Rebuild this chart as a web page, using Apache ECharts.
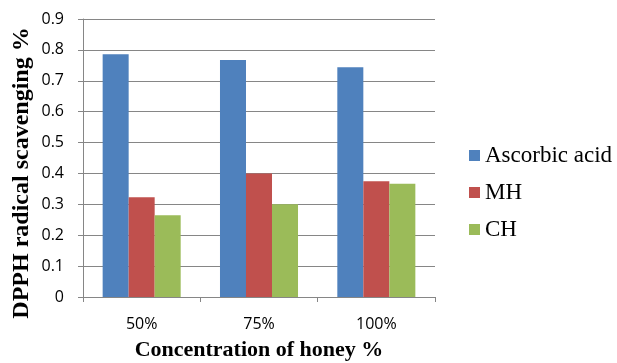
<!DOCTYPE html>
<html>
<head>
<meta charset="utf-8">
<script src="https://cdn.jsdelivr.net/npm/echarts@6/dist/echarts.min.js"></script>
<style>
  html, body { margin: 0; padding: 0; background: #fff; }
  #chart { width: 617px; height: 363px; }
</style>
</head>
<body>
<div id="chart"></div>
<script>
// Honey concentrations on the x axis
const categories = ['50%', '75%', '100%'];

// DPPH radical scavenging values per sample
const ascorbicAcid = [0.786, 0.767, 0.744];
const mh = [0.323, 0.400, 0.375];
const ch = [0.265, 0.300, 0.367];

// Value axis ticks
const yTicks = [0, 0.1, 0.2, 0.3, 0.4, 0.5, 0.6, 0.7, 0.8, 0.9];

const seriesNames = ['Ascorbic acid', 'MH', 'CH'];
const seriesColors = ['#4F81BD', '#C0504D', '#9BBB59'];
const seriesData = [ascorbicAcid, mh, ch];

const axisGrey = '#868686';
const serif = '"Liberation Serif", "Times New Roman", serif';
const sans = '"Open Sans", "Liberation Sans", sans-serif';

const chart = echarts.init(document.getElementById('chart'), null, { renderer: 'canvas' });

chart.setOption({
  animation: false,
  backgroundColor: '#ffffff',
  grid: { left: 83, right: 182, top: 19, bottom: 66 },
  legend: {
    orient: 'vertical',
    left: 464,
    top: 139,
    itemWidth: 11,
    itemHeight: 11,
    itemGap: 14,
    icon: 'rect',
    data: seriesNames,
    textStyle: { fontFamily: serif, fontSize: 23, color: '#000' }
  },
  xAxis: {
    type: 'category',
    data: categories,
    axisLine: { lineStyle: { color: axisGrey, width: 1 } },
    axisTick: { show: true, length: 5, lineStyle: { color: axisGrey } },
    axisLabel: { fontFamily: sans, fontSize: 16, color: '#000', margin: 19 }
  },
  yAxis: {
    type: 'value',
    min: yTicks[0],
    max: yTicks[yTicks.length - 1],
    interval: 0.1,
    axisLine: { show: true, lineStyle: { color: axisGrey, width: 1 } },
    axisTick: { show: true, length: 5, lineStyle: { color: axisGrey } },
    splitLine: { show: true, lineStyle: { color: axisGrey, width: 1 } },
    axisLabel: {
      fontFamily: sans, fontSize: 16, color: '#000', margin: 19,
      formatter: v => String(Math.round(v * 10) / 10)
    }
  },
  graphic: [
    {
      type: 'text',
      x: 22, y: 173,
      rotation: Math.PI / 2,
      style: {
        text: 'DPPH radical scavenging %',
        font: 'bold 24px ' + serif,
        fill: '#000',
        align: 'center',
        verticalAlign: 'middle'
      }
    },
    {
      type: 'text',
      x: 259, y: 350,
      style: {
        text: 'Concentration of honey %',
        font: 'bold 22px ' + serif,
        fill: '#000',
        align: 'center',
        verticalAlign: 'middle'
      }
    }
  ],
  series: seriesNames.map((name, i) => ({
    name,
    type: 'bar',
    data: seriesData[i],
    barGap: '0%',
    barCategoryGap: '33.5%',
    itemStyle: { color: seriesColors[i] }
  }))
});
</script>
</body>
</html>
